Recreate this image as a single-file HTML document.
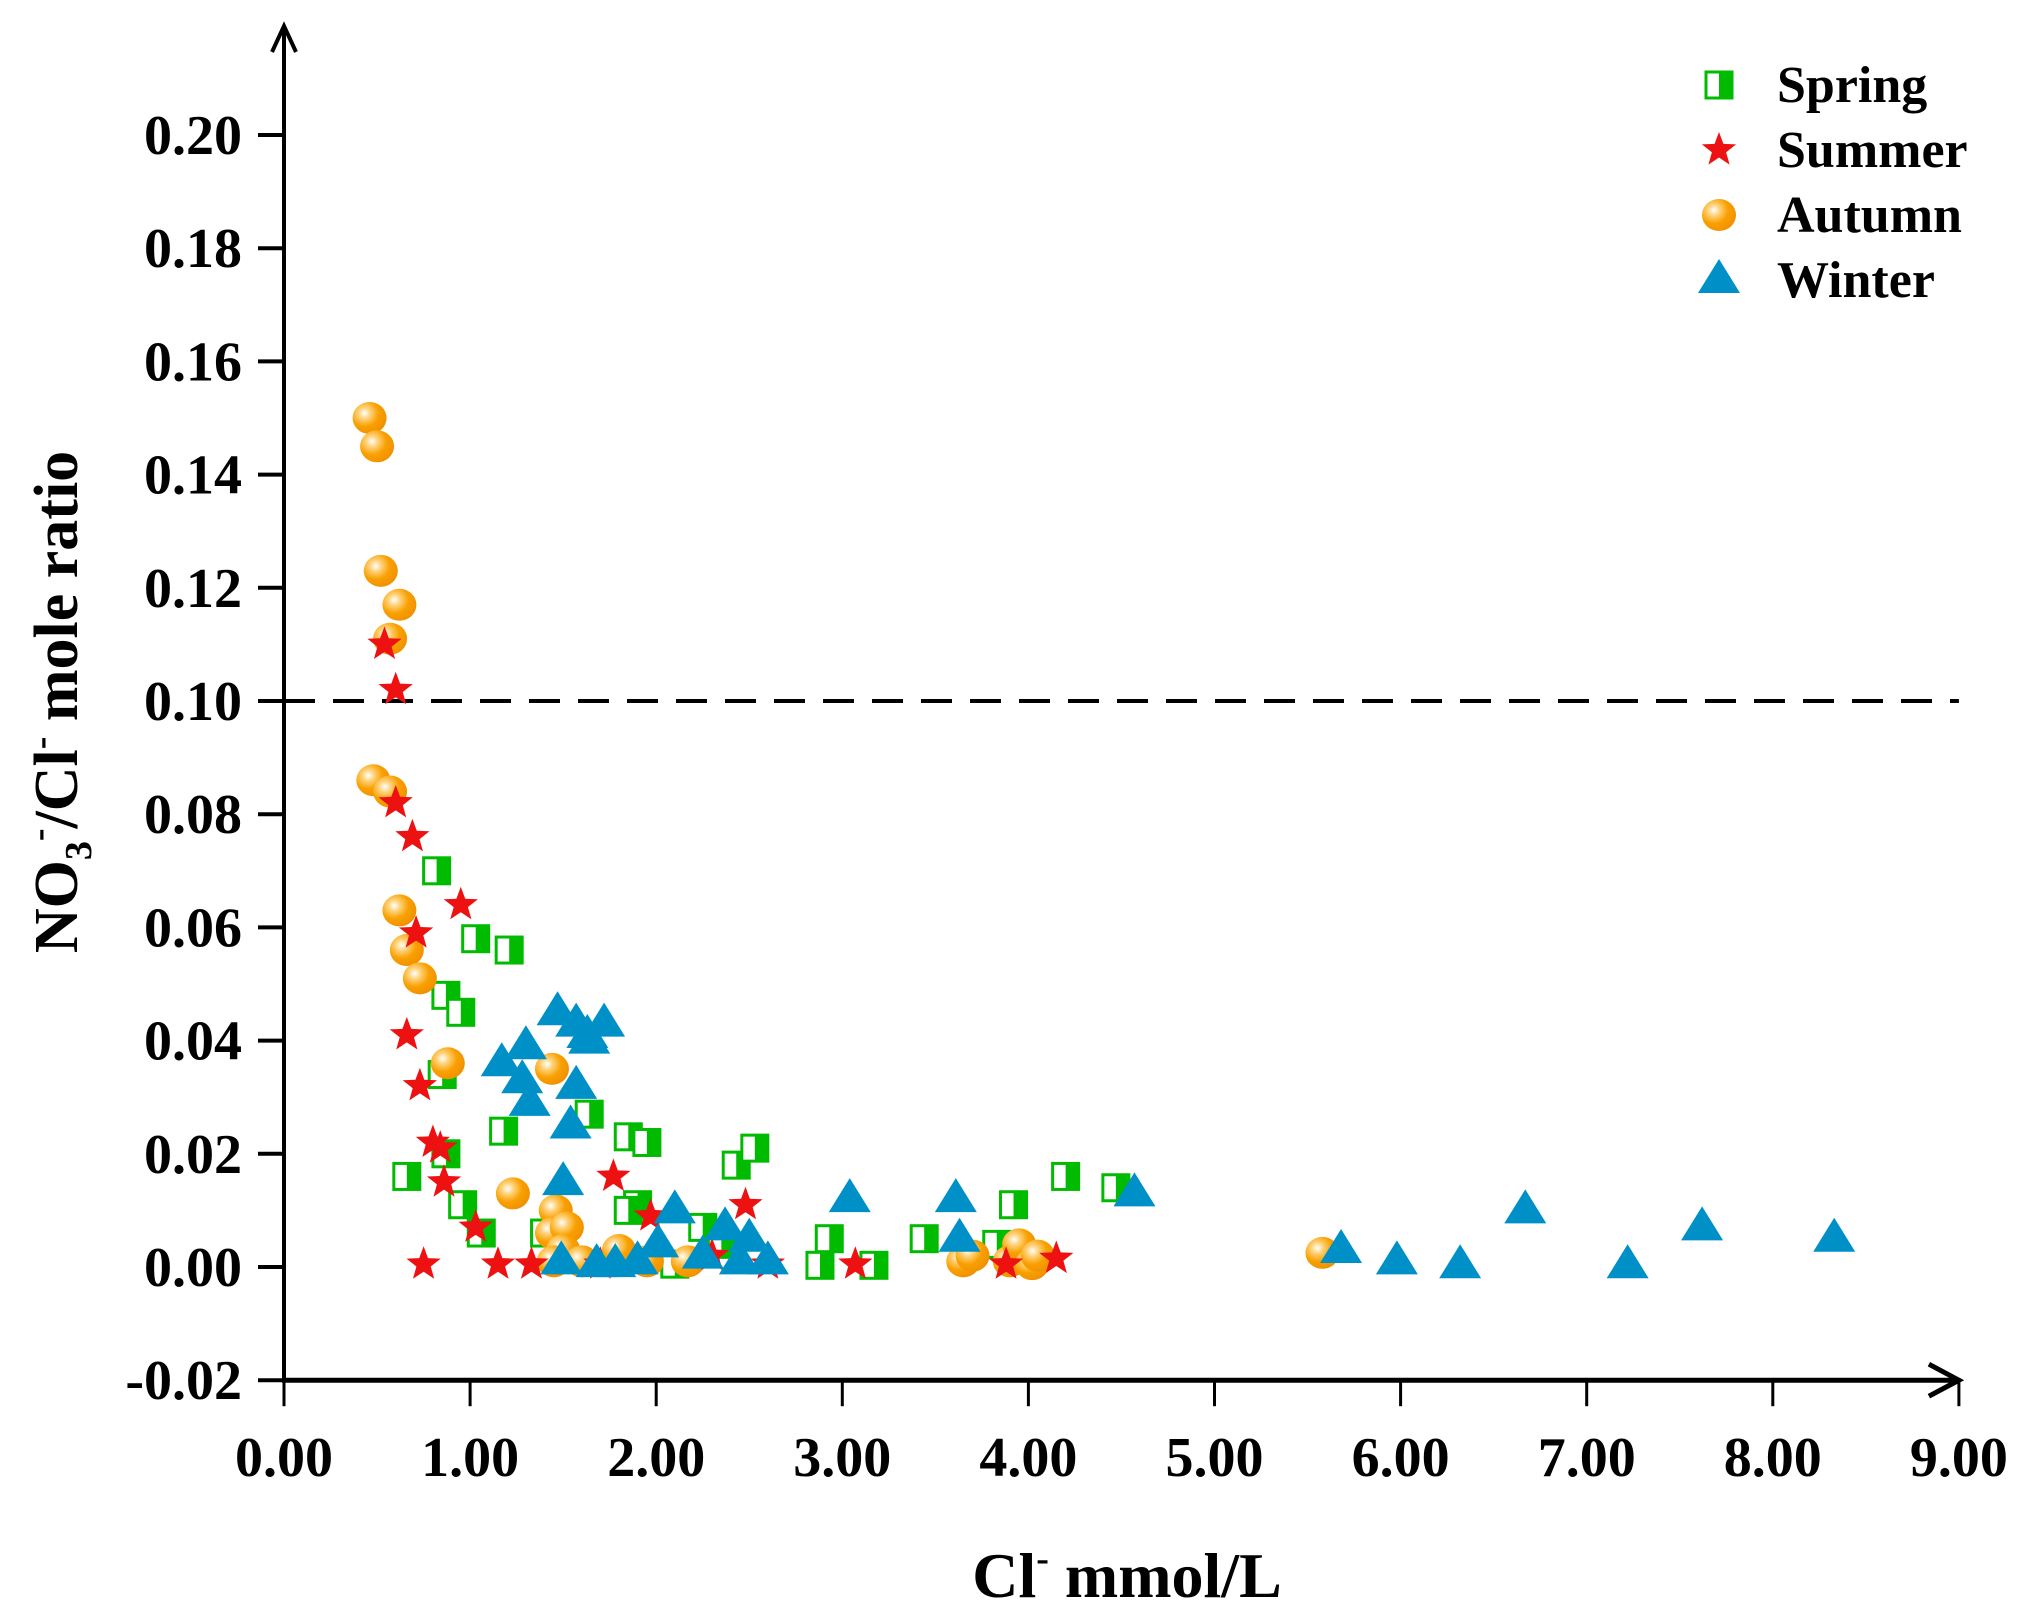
<!DOCTYPE html>
<html><head><meta charset="utf-8"><style>
html,body{margin:0;padding:0;background:#fff}
svg{display:block;font-family:"Liberation Serif",serif;font-weight:bold}
</style></head><body>
<svg id="chart" width="2030" height="1612" viewBox="0 0 2030 1612" xmlns="http://www.w3.org/2000/svg">
<defs>
<radialGradient id="ag" cx="0.35" cy="0.35" r="0.7">
<stop offset="0" stop-color="#fff"/><stop offset="0.25" stop-color="#ffd27a"/><stop offset="0.6" stop-color="#f9a000"/><stop offset="1" stop-color="#f09000"/>
</radialGradient>
</defs>
<g id="plot"></g>
</svg>
<script>
const xTicks=[0,1,2,3,4,5,6,7,8,9];
const yTicks=[-0.02,0,0.02,0.04,0.06,0.08,0.10,0.12,0.14,0.16,0.18,0.20];
const thresholdY=0.10;
const springX=[0.82,1.03,1.21,0.87,0.95,0.85,0.87,1.18,1.64,0.66,0.96,1.06,1.40,1.85,1.95,2.43,2.53,1.90,1.85,2.25,2.35,2.93,2.88,3.17,3.44,3.83,3.92,4.20,4.47,2.10];
const springY=[0.070,0.058,0.056,0.048,0.045,0.034,0.020,0.024,0.027,0.016,0.011,0.006,0.006,0.023,0.022,0.018,0.021,0.011,0.010,0.007,0.004,0.005,0.0003,0.0003,0.005,0.004,0.011,0.016,0.014,0.0005];
const summerX=[0.54,0.60,0.60,0.69,0.95,0.71,0.66,0.73,0.80,0.84,0.86,1.03,0.75,1.15,1.33,1.77,1.97,2.48,1.70,2.30,2.60,3.07,3.88,4.15];
const summerY=[0.110,0.102,0.082,0.076,0.064,0.059,0.041,0.032,0.022,0.021,0.015,0.007,0.0005,0.0005,0.0005,0.016,0.009,0.011,0.0005,0.002,0.0005,0.0005,0.0005,0.0015];
const autumnX=[0.46,0.50,0.52,0.62,0.57,0.48,0.57,0.62,0.66,0.73,0.88,1.44,1.23,1.46,1.44,1.52,1.50,1.45,1.60,1.80,1.95,2.17,3.65,3.70,3.90,3.95,4.02,4.05,5.58];
const autumnY=[0.150,0.145,0.123,0.117,0.111,0.086,0.084,0.063,0.056,0.051,0.036,0.035,0.013,0.010,0.006,0.007,0.003,0.001,0.001,0.003,0.001,0.001,0.001,0.002,0.001,0.004,0.0005,0.002,0.0025];
const winterX=[1.47,1.57,1.63,1.72,1.64,1.30,1.17,1.28,1.57,1.32,1.54,1.50,1.49,1.68,1.78,1.90,2.01,2.10,2.25,2.37,2.45,2.50,2.60,3.04,3.61,3.63,4.57,5.68,5.98,6.32,6.67,7.22,7.62,8.33];
const winterY=[0.045,0.043,0.041,0.043,0.040,0.039,0.036,0.033,0.032,0.029,0.025,0.015,0.001,0.0005,0.0005,0.001,0.004,0.010,0.002,0.007,0.001,0.005,0.001,0.012,0.012,0.005,0.013,0.003,0.001,0.0003,0.010,0.0003,0.007,0.005];

const NS="http://www.w3.org/2000/svg";
const g=document.getElementById('plot');
const X0=284,XU=186.1,Y10=701,YU=113.2/0.02;
function sx(v){return X0+XU*v;}
function sy(v){return Y10-(v-0.10)*YU;}
function mk(t,a,p){const e=document.createElementNS(NS,t);for(const k in a)e.setAttribute(k,a[k]);(p||g).appendChild(e);return e;}
const yBot=sy(-0.02);
const xEnd=sx(9);
const ya=mk('path',{d:`M${X0},${yBot} L${X0},26 M${X0-12},52 L${X0},26 L${X0+12},52`,stroke:'#000','stroke-width':4,fill:'none'});


const xa=mk('path',{d:`M${X0-2},${yBot} L${xEnd},${yBot} M${xEnd-30},${yBot-16} L${xEnd},${yBot} L${xEnd-30},${yBot+16}`,stroke:'#000','stroke-width':5,fill:'none'});


xTicks.forEach(v=>{
  const t=mk('line',{x1:sx(v),x2:sx(v),y1:yBot,y2:yBot+26,stroke:'#000','stroke-width':3});
  
  
  const l=mk('text',{x:sx(v),y:1476,'text-anchor':'middle','font-size':56});
  l.textContent=v.toFixed(2);
  
  
});
yTicks.forEach(v=>{
  const t=mk('line',{x1:X0-26,x2:X0,y1:sy(v),y2:sy(v),stroke:'#000','stroke-width':4});
  
  
  const l=mk('text',{x:242,y:sy(v)+19,'text-anchor':'end','font-size':56});
  l.textContent=v.toFixed(2);
  
  
});
const dl=mk('line',{x1:X0,x2:xEnd,y1:sy(thresholdY),y2:sy(thresholdY),stroke:'#000','stroke-width':4,'stroke-dasharray':'31 18'});



function spring(x,y,p){const s=mk('g',{},p);
  mk('rect',{x:x-13,y:y-13,width:26,height:26,fill:'#fff',stroke:'#00bb00','stroke-width':3},s);
  mk('rect',{x:x,y:y-13,width:13,height:26,fill:'#00bb00'},s);return s;}
function star(x,y,p){const r=18,ri=7.5;let d='';for(let i=0;i<10;i++){const rr=i%2?ri:r,a=-Math.PI/2+i*Math.PI/5;d+=(i?'L':'M')+(x+rr*Math.cos(a)).toFixed(1)+','+(y+rr*Math.sin(a)).toFixed(1);}
  return mk('path',{d:d+'Z',fill:'#ee1111'},p);}
function circ(x,y,p){return mk('ellipse',{cx:x,cy:y,rx:17,ry:16,fill:'url(#ag)'},p);}
function tri(x,y,p){return mk('path',{d:`M${x},${y-21} L${x+21},${y+13} L${x-21},${y+13}Z`,fill:'#0090c8'},p);}

springX.forEach((v,i)=>{const m=spring(sx(v),sy(springY[i]));
  
  });
autumnX.forEach((v,i)=>{const m=circ(sx(v),sy(autumnY[i]));
  
  });
summerX.forEach((v,i)=>{const m=star(sx(v),sy(summerY[i]));
  
  });
winterX.forEach((v,i)=>{const m=tri(sx(v),sy(winterY[i]));
  
  });

const lg=mk('g',{});


const names=['Spring','Summer','Autumn','Winter'];
const fns=[spring,star,circ,tri];
names.forEach((n,i)=>{const y=85+i*65;
  const e=mk('g',{},lg);
  
  
  fns[i](1719,y,e);
  const t=mk('text',{x:1777,y:y+17,'font-size':52},e);t.textContent=n;});

const xt=mk('text',{x:1127,y:1597,'text-anchor':'middle','font-size':64});


xt.innerHTML='Cl<tspan font-size="38" dy="-26">-</tspan><tspan dy="26"> mmol/L</tspan>';
const yt=mk('text',{x:0,y:0,'text-anchor':'middle','font-size':62,transform:'translate(77,702) rotate(-90)'});


yt.innerHTML='NO<tspan font-size="38" dy="14">3</tspan><tspan font-size="38" dy="-40">-</tspan><tspan dy="26">/Cl</tspan><tspan font-size="38" dy="-24">-</tspan><tspan dy="24"> mole ratio</tspan>';
</script>
</body></html>
